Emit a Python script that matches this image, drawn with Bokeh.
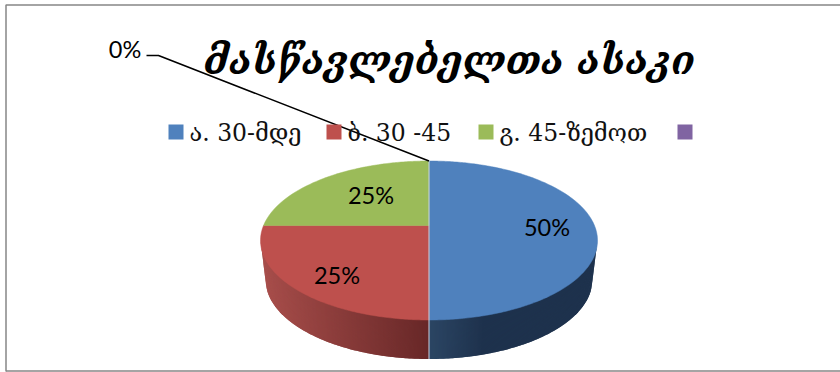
import math
from bokeh.plotting import figure
from bokeh.models import Range1d
from bokeh.core.properties import value
from bokeh.embed import file_html
from bokeh.resources import INLINE

# Age distribution of teachers
title_text = "მასწავლებელთა ასაკი"
categories = ["ა. 30-მდე", "ბ.  30 -45", "გ. 45-ზემოთ", ""]
shares = [50, 25, 25, 0]
labels = ["50%", "25%", "25%", "0%"]
colors = ["#4f81bd", "#be504d", "#9bbb59", "#8064a2"]
shade_light = {0: (44, 70, 100), 1: (168, 78, 75)}
shade_dark = {0: (30, 50, 77), 1: (104, 40, 40)}

W, H = 840, 372
CX, CY, RX, RY = 428.5, 240, 168.5, 79.5   # outline of the top face
AX, AY = 428.5, 225                        # where the slices meet
DEPTH = 39
RX_LOW = 163.5                             # lower rim is a little narrower

p = figure(width=W, height=H, output_backend="svg", toolbar_location=None,
           x_range=Range1d(0, W), y_range=Range1d(H, 0), min_border=0,
           outline_line_color=None, background_fill_color="white",
           border_fill_color="white")
p.axis.visible = False
p.grid.visible = False


def rim(frac):
    """Point on the top-face outline for a cumulative share, clockwise from 12 o'clock."""
    a = 2 * math.pi * frac
    dx, dy = math.sin(a), -math.cos(a)
    ox, oy = (AX - CX) / RX, (AY - CY) / RY
    ux, uy = dx / RX, dy / RY
    qa = ux * ux + uy * uy
    qb = 2 * (ox * ux + oy * uy)
    qc = ox * ox + oy * oy - 1
    t = (-qb + math.sqrt(qb * qb - 4 * qa * qc)) / (2 * qa)
    return AX + t * dx, AY + t * dy


def arc_y(u):
    return RY * math.sqrt(max(0.0, 1 - u * u))


# Side wall: narrow overlapping strips, painted from the front outwards, shade the band
total = sum(shares)
steps = 170
for idx, sign in ((0, 1), (1, -1)):
    for i in range(steps):
        u0 = i / steps
        u1 = min(1.0, (i + 2) / steps)
        t = min(1.0, i / 55) if idx == 0 else 1 - i / steps
        lo, hi = shade_light[idx], shade_dark[idx]
        r, g, b = [round(a + (c - a) * t) for a, c in zip(lo, hi)]
        col = f"#{r:02x}{g:02x}{b:02x}"
        xs = [CX + sign * RX * u0, CX + sign * RX * u1,
              CX + sign * RX_LOW * u1, CX + sign * RX_LOW * u0]
        ys = [CY + arc_y(u0) - 1, CY + arc_y(u1) - 1,
              CY + DEPTH + arc_y(u1), CY + DEPTH + arc_y(u0)]
        p.patch(xs, ys, fill_color=col, line_color=None)

# Top face slices
cum = 0.0
for idx, share in enumerate(shares):
    if share == 0:
        continue
    start, end = cum / total, (cum + share) / total
    n = max(2, int(share * 3))
    pts = [rim(start + (end - start) * k / n) for k in range(n + 1)]
    p.patch([AX] + [q[0] for q in pts], [AY] + [q[1] for q in pts],
            fill_color=colors[idx], line_color=colors[idx], line_width=0.5)
    cum += share

# Pale seam between the first slice and its neighbours
p.line([AX, AX], [CY - RY, CY + RY + DEPTH], line_color="#c6d4e6", line_width=1)

# Leader line for the empty slice
p.line([146, 158, AX], [55, 55, CY - RY], line_color="black", line_width=1.6)

# Slice value labels
label_font = value("Lato")
p.text([546.5], [226], text=[labels[0]], text_font=label_font, text_font_size="23.5px",
       text_align="center", text_baseline="middle", text_color="black")
p.text([336.5], [274], text=[labels[1]], text_font=label_font, text_font_size="23.5px",
       text_align="center", text_baseline="middle", text_color="black")
p.text([370.5], [194], text=[labels[2]], text_font=label_font, text_font_size="23.5px",
       text_align="center", text_baseline="middle", text_color="black")
p.text([124.5], [48.5], text=[labels[3]], text_font=label_font, text_font_size="23.5px",
       text_align="center", text_baseline="middle", text_color="black")

# Title
p.text([449], [60], text=[title_text], text_font=value("DejaVu Serif"), text_font_style="bold italic",
       text_font_size="38.5px", text_align="center", text_baseline="middle", text_color="black")

# Legend
swatch_x = [168, 326, 478, 677]
text_x = [189, 347, 499, 698]
for sx, tx, col, cat in zip(swatch_x, text_x, colors, categories):
    p.quad(left=[sx], right=[sx + 15], top=[124], bottom=[139], fill_color=col, line_color=None)
    if cat:
        p.text([tx], [132], text=[cat], text_font=value("DejaVu Serif"), text_font_size="23.5px",
               text_align="left", text_baseline="middle", text_color="#111111")

# Frame
p.line([5.5, 5.5, 840], [371, 4.5, 4.5], line_color="#868686", line_width=1.5)
p.line([5.5, 840], [370.5, 370.5], line_color="#868686", line_width=1.5)

open("out.html", "w").write(file_html(p, INLINE))
